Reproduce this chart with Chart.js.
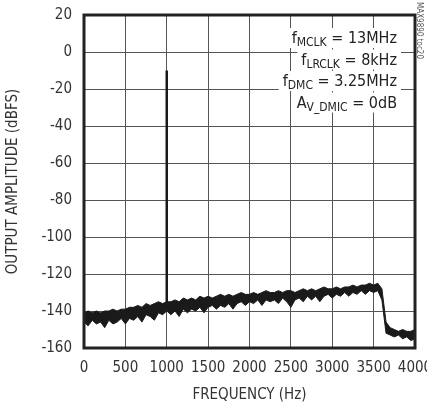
<!DOCTYPE html>
<html>
<head>
<meta charset="utf-8">
<script src="https://cdn.jsdelivr.net/npm/chart.js@4"></script>
<style>
  body { margin: 0; background: #fff; }
</style>
</head>
<body>
<canvas id="fftChart" width="427" height="408"></canvas>
<script>
// FFT of the output, 50 Hz steps from 0 to 4000 Hz
const freqHz = [];
for (let f = 0; f <= 4000; f += 50) freqHz.push(f);

// top and bottom of the noise band (dBFS)
const noiseTop = [
  -141, -140, -141, -140, -141, -140, -140, -139, -140, -139,
  -139, -138, -138, -137, -138, -136, -137, -136, -135, -136,
  -135, -135, -134, -135, -133, -134, -133, -134, -132, -133,
  -132, -133, -132, -131, -132, -131, -132, -131, -130, -131,
  -131, -130, -131, -130, -129, -130, -130, -129, -130, -129,
  -129, -130, -129, -128, -129, -128, -129, -128, -127, -128,
  -128, -127, -128, -127, -127, -126, -127, -126, -126, -125,
  -126, -125, -128, -146, -149, -150, -151, -150, -151, -151,
  -150
];
const noiseBottom = [
  -146, -148, -145, -147, -146, -149, -145, -147, -146, -144,
  -147, -144, -145, -143, -146, -142, -143, -145, -141, -142,
  -140, -142, -140, -143, -139, -141, -139, -140, -138, -141,
  -138, -137, -139, -137, -138, -136, -139, -136, -135, -137,
  -135, -136, -134, -137, -134, -135, -134, -136, -133, -135,
  -138, -134, -133, -135, -132, -134, -132, -135, -132, -131,
  -133, -131, -132, -130, -132, -130, -131, -129, -131, -129,
  -130, -129, -134, -152, -153, -154, -153, -155, -154, -156,
  -155
];

// 1kHz test tone
const toneHz = [1000, 1000];
const toneDb = [-137, -10];

const xTicks = [0, 500, 1000, 1500, 2000, 2500, 3000, 3500, 4000];
const yTicks = [20, 0, -20, -40, -60, -80, -100, -120, -140, -160];

const narrow = '"Liberation Sans Narrow", "DejaVu Sans Condensed", sans-serif';

const pts = (xs, ys) => xs.map((x, i) => ({ x: x, y: ys[i] }));

// legend box in the top right corner, with subscripts
const notes = [
  [['f', 0], ['MCLK', 1], [' = 13MHz', 0]],
  [['f', 0], ['LRCLK', 1], [' = 8kHz', 0]],
  [['f', 0], ['DMC', 1], [' = 3.25MHz', 0]],
  [['A', 0], ['V_DMIC', 1], [' = 0dB', 0]]
];

const framePlugin = {
  id: 'frame',
  afterDraw(chart) {
    const ctx = chart.ctx;
    const a = chart.chartArea;
    ctx.save();
    // notes
    const big = '16px ' + narrow, small = '12px ' + narrow;
    const right = 397;
    notes.forEach((parts, i) => {
      const base = 43 + i * 21.5;
      let w = 0;
      parts.forEach(p => { ctx.font = p[1] ? small : big; w += ctx.measureText(p[0]).width; });
      ctx.fillStyle = '#fff';
      ctx.fillRect(right - w - 4, base - 15, w + 8, 20);
      let x = right - w;
      ctx.fillStyle = '#222';
      ctx.textBaseline = 'alphabetic';
      parts.forEach(p => {
        ctx.font = p[1] ? small : big;
        ctx.fillText(p[0], x, base + (p[1] ? 3 : 0));
        x += ctx.measureText(p[0]).width;
      });
    });
    // plot border
    ctx.strokeStyle = '#222';
    ctx.lineWidth = 3;
    ctx.strokeRect(a.left, a.top, a.right - a.left, a.bottom - a.top);
    // small side label
    ctx.translate(419, 2);
    ctx.rotate(Math.PI / 2);
    ctx.font = '8px ' + narrow;
    ctx.fillStyle = '#555';
    ctx.textBaseline = 'middle';
    ctx.fillText('MAX9890 toc20', 0, 0);
    ctx.restore();
  }
};

new Chart(document.getElementById('fftChart'), {
  type: 'scatter',
  data: {
    datasets: [
      {
        label: 'top',
        data: pts(freqHz, noiseTop),
        showLine: true,
        borderColor: '#1a1a1a',
        borderWidth: 1,
        pointRadius: 0,
        fill: false
      },
      {
        label: 'bottom',
        data: pts(freqHz, noiseBottom),
        showLine: true,
        borderColor: '#1a1a1a',
        backgroundColor: '#1a1a1a',
        borderWidth: 1,
        pointRadius: 0,
        fill: '-1'
      },
      {
        label: 'tone',
        data: pts(toneHz, toneDb),
        showLine: true,
        borderColor: '#1a1a1a',
        borderWidth: 2.5,
        pointRadius: 0,
        fill: false
      }
    ]
  },
  options: {
    responsive: false,
    animation: false,
    layout: { padding: { top: 15, right: 12, left: 0, bottom: 0 } },
    plugins: {
      legend: { display: false },
      tooltip: { enabled: false }
    },
    scales: {
      x: {
        type: 'linear',
        min: 0,
        max: 4000,
        afterBuildTicks: s => { s.ticks = xTicks.map(v => ({ value: v })); },
        afterFit: s => { s.height = 60; s.paddingLeft = 0; s.paddingRight = 0; },
        grid: { color: '#555', lineWidth: 1, drawTicks: false },
        border: { display: false },
        ticks: {
          color: '#333', font: { family: narrow, size: 15 }, padding: 11,
          maxRotation: 0, autoSkip: false, callback: v => String(v)
        },
        title: { display: true, text: 'FREQUENCY (Hz)', color: '#333', font: { family: narrow, size: 15 }, padding: { top: 4 } }
      },
      y: {
        min: -160,
        max: 20,
        afterBuildTicks: s => { s.ticks = yTicks.map(v => ({ value: v })); },
        afterFit: s => { s.width = 84; s.paddingTop = 0; s.paddingBottom = 0; },
        grid: { color: '#555', lineWidth: 1, drawTicks: false },
        border: { display: false },
        ticks: { color: '#333', font: { family: narrow, size: 15 }, padding: 12, autoSkip: false },
        title: { display: true, text: 'OUTPUT AMPLITUDE (dBFS)', color: '#333', font: { family: narrow, size: 15 }, padding: { bottom: 4 } }
      }
    }
  },
  plugins: [framePlugin]
});
</script>
</body>
</html>
